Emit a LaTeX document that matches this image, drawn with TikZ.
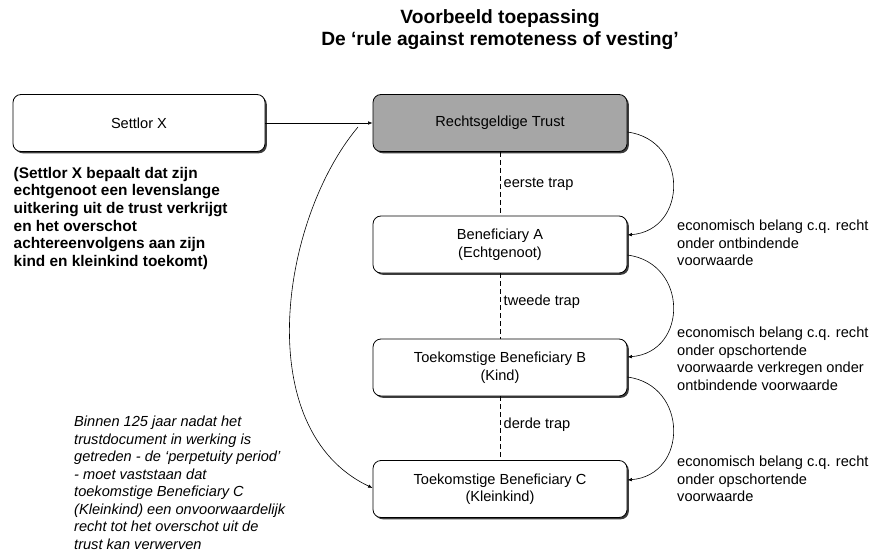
\documentclass[tikz,border=0pt]{standalone}
\usepackage{fontspec}
\setmainfont{Liberation Sans}
\usetikzlibrary{arrows.meta,shadows}
\definecolor{trustgray}{RGB}{166,166,166}
\definecolor{shadowgray}{RGB}{60,60,60}
\begin{document}
\begin{tikzpicture}[x=1pt,y=-1pt,
  box/.style={draw=black, line width=0.8pt, rounded corners=8pt, fill=white,
    minimum height=57pt, inner sep=0pt, align=center,
    font=\fontsize{14.6}{17.5}\selectfont,
    general shadow={fill=shadowgray, shadow xshift=1.8pt, shadow yshift=-1.8pt}},
  lbl/.style={inner sep=0pt, align=left, font=\fontsize{14.6}{17.5}\selectfont},
  arr/.style={line width=0.6pt, -{Latex[length=4.5pt,width=3.5pt]}},
  trap/.style={line width=0.6pt, dash pattern=on 5pt off 3pt}]
\useasboundingbox (0,0) rectangle (874,553);

% title
\node[inner sep=0pt, align=center, font=\fontsize{19.2}{22.5}\selectfont\bfseries] (title) at (500,29.5)
  {Voorbeeld toepassing\\De ‘rule against remoteness of vesting’};

% boxes
\node[box, minimum width=252pt] (S) at (139,123) {Settlor X};
\node[box, minimum width=254pt, fill=trustgray] (T) at (500,123) {Rechtsgeldige Trust};
\node[box, minimum width=254pt] (A) at (500,244.5) {Beneficiary A\\(Echtgenoot)};
\node[box, minimum width=254pt] (B) at (500,367.5) {Toekomstige Beneficiary B\\(Kind)};
\node[box, minimum width=254pt] (C) at (500,489) {Toekomstige Beneficiary C\\(Kleinkind)};

% left texts
\node[inner sep=0pt, align=left, anchor=north west,
  font=\fontsize{15.4}{17.6}\selectfont\bfseries] (note) at (13.5,167)
  {(Settlor X bepaalt dat zijn\\echtgenoot een levenslange\\uitkering uit de trust verkrijgt\\en het overschot\\achtereenvolgens aan zijn\\kind en kleinkind toekomt)};
\node[lbl, anchor=north west, font=\fontsize{14.6}{17.5}\selectfont\itshape] (perp) at (74,416)
  {Binnen 125 jaar nadat het\\trustdocument in werking is\\getreden - de ‘perpetuity period’\\- moet vaststaan dat\\toekomstige Beneficiary C\\(Kleinkind) een onvoorwaardelijk\\recht tot het overschot uit de\\trust kan verwerven};

% right texts
\node[lbl, anchor=north west] (rA) at (677,220)
  {economisch belang c.q. recht\\onder ontbindende\\voorwaarde};
\node[lbl, anchor=north west] (rB) at (677,327)
  {economisch belang c.q. recht\\onder opschortende\\voorwaarde verkregen onder\\ontbindende voorwaarde};
\node[lbl, anchor=north west] (rC) at (677,456)
  {economisch belang c.q. recht\\onder opschortende\\voorwaarde};

% dashed stages
\draw[trap] (T.south) -- (A.north);
\draw[trap] (A.south) -- (B.north);
\draw[trap] (B.south) -- (C.north);
\node[lbl, anchor=west] (t1) at (503.5,184) {eerste trap};
\node[lbl, anchor=west] (t2) at (503.5,302) {tweede trap};
\node[lbl, anchor=west] (t3) at (503.5,425) {derde trap};

% connectors
\draw[arr] (S.east) -- (T.west);
\draw[arr] ([yshift=-9pt]T.east) .. controls +(61,8) and +(61,-5) .. ([yshift=9.5pt]A.east);
\draw[arr] ([yshift=-10.5pt]A.east) .. controls +(61,8) and +(61,-5) .. ([yshift=10.5pt]B.east);
\draw[arr] ([yshift=-9.5pt]B.east) .. controls +(61,8) and +(61,-5) .. ([yshift=9pt]C.east);
\coordinate (ls) at (358,127);
\draw[arr] (ls) .. controls (280,220) and (250,430) .. ([yshift=1pt]C.west);
\end{tikzpicture}
\end{document}
